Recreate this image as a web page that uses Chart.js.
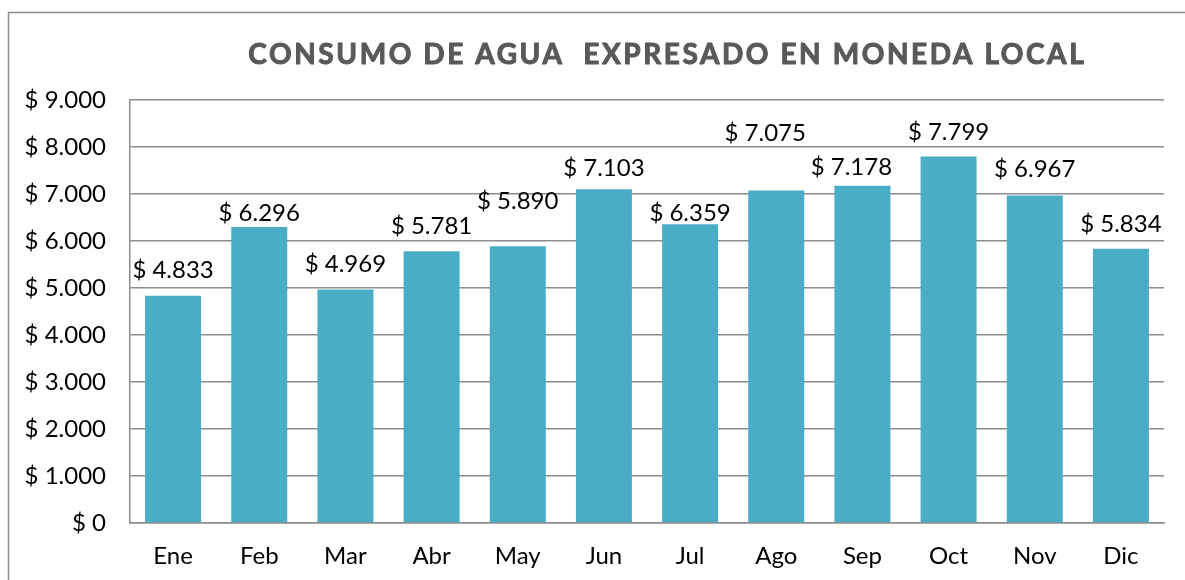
<!DOCTYPE html>
<html>
<head>
<meta charset="utf-8">
<script src="https://cdn.jsdelivr.net/npm/chart.js@4.4.0/dist/chart.umd.min.js"></script>
<style>
html,body{margin:0;padding:0;background:#fff;}
#wrap{position:relative;width:1185px;height:580px;}
</style>
</head>
<body>
<div id="wrap"><canvas id="c" width="1185" height="580"></canvas></div>
<script>
const categories = ["Ene","Feb","Mar","Abr","May","Jun","Jul","Ago","Sep","Oct","Nov","Dic"];
const consumo = [4833,6296,4969,5781,5890,7103,6359,7075,7178,7799,6967,5834];
const yTicks = [0,1000,2000,3000,4000,5000,6000,7000,8000,9000];
const titleText = "CONSUMO DE AGUA  EXPRESADO EN MONEDA LOCAL";
// label placement tweaks (pixels) to mimic the original label positions
const labelDx = [0,0,0,0,0,0,0,-11,-11,0,0,0];
const labelDy = [26,14,25,25,45,21,11,57,18,24,26,25];

const FONT = "Lato, 'Open Sans', sans-serif";
function money(v){
  return "$ " + String(v).replace(/\B(?=(\d{3})+(?!\d))/g, ".");
}

const deco = {
  id:'deco',
  beforeDraw(chart){
    const ctx = chart.ctx;
    ctx.save();
    ctx.fillStyle = '#fff';
    ctx.fillRect(0,0,chart.width,chart.height);
    ctx.strokeStyle = '#8c8c8c';
    ctx.lineWidth = 1.5;
    ctx.strokeRect(8.5,12.5,1200,600);
    ctx.restore();
  },
  afterDraw(chart){
    const ctx = chart.ctx;
    ctx.save();
    ctx.font = "bold 28px " + FONT;
    ctx.fillStyle = '#595959';
    ctx.strokeStyle = '#595959';
    ctx.lineWidth = 1;
    ctx.lineJoin = 'round';
    ctx.textAlign = 'center';
    ctx.textBaseline = 'middle';
    const natural = ctx.measureText(titleText).width;
    const target = 838;
    const extra = Math.max(0, (target - natural) / titleText.length);
    try { ctx.letterSpacing = extra.toFixed(2) + 'px'; } catch(e) {}
    ctx.fillText(titleText, 666 + extra/2, 55);
    ctx.strokeText(titleText, 666 + extra/2, 55);
    try { ctx.letterSpacing = '0px'; } catch(e) {}
    const meta = chart.getDatasetMeta(0);
    ctx.font = "24px " + FONT;
    ctx.fillStyle = '#000';
    meta.data.forEach((bar,i)=>{
      ctx.fillText(money(consumo[i]), bar.x + labelDx[i], bar.y - labelDy[i]);
    });
    ctx.restore();
  }
};

new Chart(document.getElementById('c'), {
  type:'bar',
  data:{
    labels:categories,
    datasets:[{
      data:consumo,
      backgroundColor:'#4BACC6',
      borderWidth:0,
      categoryPercentage:0.65,
      barPercentage:1.0
    }]
  },
  options:{
    responsive:false,
    animation:false,
    devicePixelRatio:1,
    layout:{padding:{left:0,top:100,right:21,bottom:0}},
    plugins:{legend:{display:false},tooltip:{enabled:false},title:{display:false}},
    scales:{
      x:{
        grid:{display:false,drawTicks:false},
        border:{display:true,color:'#8c8c8c',width:1.5},
        ticks:{color:'#000',font:{family:FONT,size:24},padding:19},
        afterFit(s){ s.height = 57; }
      },
      y:{
        min:0,max:9000,
        afterBuildTicks(s){ s.ticks = yTicks.map(v=>({value:v})); },
        grid:{color:'#8c8c8c',lineWidth:1.5,drawTicks:false},
        border:{display:true,color:'#8c8c8c',width:1.5},
        ticks:{color:'#000',font:{family:FONT,size:24},padding:24,callback:(v)=>money(v)},
        afterFit(s){ s.width = 130; }
      }
    }
  },
  plugins:[deco]
});
</script>
</body>
</html>
